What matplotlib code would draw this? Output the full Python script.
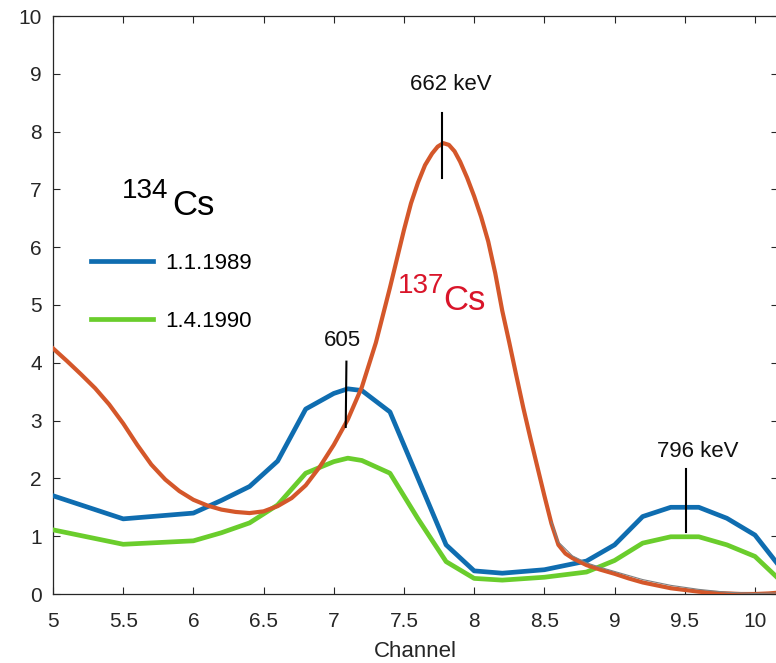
import matplotlib
matplotlib.use("Agg")
import matplotlib.pyplot as plt

plt.rcParams['font.family'] = ['Liberation Sans', 'DejaVu Sans']

# 134Cs, 1.1.1989
x_blue = [5.0, 5.5, 6.0, 6.2, 6.4, 6.6, 6.8, 7.0, 7.1, 7.2, 7.4, 7.6, 7.8, 8.0, 8.2,
          8.5, 8.8, 9.0, 9.2, 9.4, 9.6, 9.8, 10.0, 10.2]
y_blue = [1.70, 1.30, 1.40, 1.62, 1.86, 2.30, 3.20, 3.47, 3.55, 3.52, 3.15, 2.00, 0.85, 0.40, 0.36,
          0.42, 0.57, 0.85, 1.34, 1.50, 1.50, 1.31, 1.02, 0.40]

# 134Cs, 1.4.1990
x_green = [5.0, 5.5, 6.0, 6.2, 6.4, 6.6, 6.8, 7.0, 7.1, 7.2, 7.4, 7.6, 7.8, 8.0, 8.2,
           8.5, 8.8, 9.0, 9.2, 9.4, 9.6, 9.8, 10.0, 10.2]
y_green = [1.11, 0.86, 0.92, 1.06, 1.23, 1.54, 2.09, 2.29, 2.35, 2.31, 2.09, 1.30, 0.56, 0.27, 0.24,
           0.29, 0.38, 0.58, 0.88, 0.99, 0.99, 0.85, 0.65, 0.19]

# 137Cs
x_cs137 = [5.0, 5.1, 5.2, 5.3, 5.4, 5.5, 5.6, 5.7, 5.8, 5.9, 6.0, 6.1, 6.2, 6.3, 6.4, 6.5,
           6.6, 6.7, 6.8, 6.9, 7.0, 7.1, 7.2, 7.3, 7.4, 7.45, 7.5, 7.55, 7.6, 7.65, 7.7,
           7.74, 7.78, 7.82, 7.86, 7.9, 7.95, 8.0, 8.05, 8.1, 8.15, 8.2, 8.25, 8.3, 8.35, 8.4,
           8.45, 8.5, 8.55, 8.6, 8.65, 8.7, 8.8, 8.9, 9.0, 9.1, 9.2, 9.3, 9.4, 9.5, 9.6,
           9.7, 9.8, 9.9, 10.0, 10.1, 10.2]
y_cs137 = [4.25, 4.03, 3.80, 3.56, 3.28, 2.95, 2.58, 2.24, 1.98, 1.78, 1.63, 1.53, 1.46, 1.42, 1.40, 1.43,
           1.52, 1.66, 1.88, 2.20, 2.58, 3.02, 3.58, 4.35, 5.30, 5.80, 6.30, 6.76, 7.12, 7.42, 7.62,
           7.74, 7.80, 7.77, 7.66, 7.48, 7.20, 6.88, 6.52, 6.10, 5.55, 4.90, 4.35, 3.78, 3.22, 2.70,
           2.20, 1.70, 1.22, 0.85, 0.70, 0.62, 0.50, 0.42, 0.35, 0.27, 0.20, 0.15, 0.10, 0.07, 0.04,
           0.02, 0.01, 0.0, 0.0, 0.01, 0.03]

# thin grey trace along the 137Cs tail
x_grey = [8.55, 8.6, 8.7, 8.8, 8.9, 9.0, 9.2, 9.4, 9.6, 9.8, 10.0, 10.2]
y_grey = [1.25, 0.90, 0.66, 0.54, 0.46, 0.39, 0.25, 0.15, 0.08, 0.03, 0.01, 0.02]

xticks = [5, 5.5, 6, 6.5, 7, 7.5, 8, 8.5, 9, 9.5, 10]
xtick_labels = ['5', '5.5', '6', '6.5', '7', '7.5', '8', '8.5', '9', '9.5', '10']
yticks = list(range(0, 11))

fig = plt.figure(figsize=(7.76, 6.63), dpi=100)
ax = fig.add_axes([53 / 776, 69 / 663, 725 / 776, 578 / 663])

ax.plot(x_blue, y_blue, color='#0f6db0', lw=3.4, label='1.1.1989', zorder=3)
ax.plot(x_green, y_green, color='#6acd2c', lw=3.4, label='1.4.1990', zorder=3)
ax.plot(x_cs137, y_cs137, color='#d4572a', lw=3.0, zorder=4)
ax.plot(x_grey, y_grey, color='#808080', lw=0.8, zorder=4.5)

# peak markers
ax.plot([7.77, 7.77], [7.20, 8.32], color='black', lw=1.5, zorder=5)
ax.plot([7.09, 7.085], [4.02, 2.89], color='black', lw=1.5, zorder=5)
ax.plot([9.51, 9.51], [2.17, 1.08], color='black', lw=1.5, zorder=5)

ax.text(7.83, 8.82, '662 keV', ha='center', va='center', fontsize=16, color='#111111')
ax.text(7.06, 4.39, '605', ha='center', va='center', fontsize=16, color='#111111')
ax.text(9.59, 2.46, '796 keV', ha='center', va='center', fontsize=16, color='#111111')

# isotope labels (mass number as superscript)
ax.text(5.491, 6.85, '134', ha='left', va='baseline', fontsize=20, color='black')
ax.text(5.848, 6.557, 'Cs', ha='left', va='baseline', fontsize=25, color='black')
ax.text(7.459, 5.21, '137', ha='left', va='baseline', fontsize=20, color='#d9152a', zorder=6)
ax.text(7.778, 4.91, 'Cs', ha='left', va='baseline', fontsize=25, color='#d9152a', zorder=6)

ax.legend(loc='center left', bbox_to_anchor=(5.27, 5.22), bbox_transform=ax.transData,
          frameon=False, fontsize=16, handlelength=2.8, handletextpad=0.55,
          labelspacing=1.65, borderpad=0, borderaxespad=0)

ax.set_xlim(5, 10.164)
ax.set_ylim(0, 10)
ax.set_xticks(xticks)
ax.set_xticklabels(xtick_labels)
ax.set_yticks(yticks)
ax.tick_params(direction='in', length=5, width=0.8, colors='#262626', labelsize=15,
               top=True, right=True)
ax.tick_params(axis='x', pad=13)
ax.tick_params(axis='y', pad=8)
for sp in ax.spines.values():
    sp.set_color('#262626')
    sp.set_linewidth(0.9)

ax.set_xlabel('Channel', fontsize=16, color='#262626', labelpad=7)

fig.savefig('out.png', dpi=100)
